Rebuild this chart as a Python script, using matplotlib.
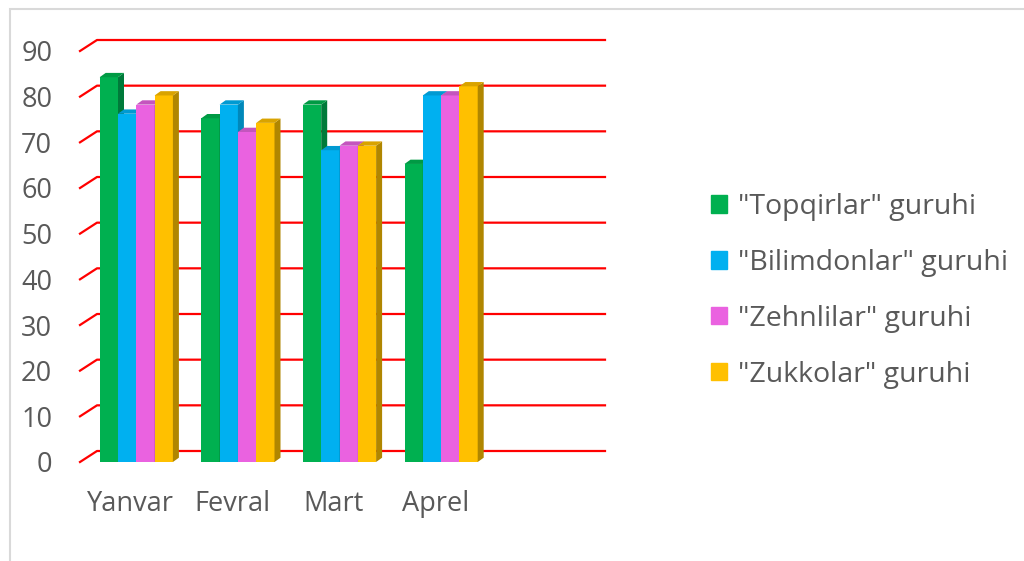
import matplotlib.pyplot as plt
from matplotlib.patches import Polygon, Patch, Rectangle

months = ['Yanvar', 'Fevral', 'Mart', 'Aprel']
groups = ['"Topqirlar" guruhi', '"Bilimdonlar" guruhi',
          '"Zehnlilar" guruhi', '"Zukkolar" guruhi']
topqirlar = [84, 75, 78, 65]
bilimdonlar = [76, 78, 68, 80]
zehnlilar = [78, 72, 69, 80]
zukkolar = [80, 74, 69, 82]
series = [topqirlar, bilimdonlar, zehnlilar, zukkolar]
yticks = list(range(0, 100, 10))

front_c = ['#00B050', '#00B0F0', '#EA62E0', '#FFC000']
side_c = ['#007A3A', '#0088BA', '#B04AA8', '#B08600']
top_c = ['#009A44', '#009AD2', '#C455BE', '#D9A300']
text_c = '#595959'

plt.rcParams['font.family'] = ['Open Sans', 'DejaVu Sans']

fig = plt.figure(figsize=(10.24, 5.61), dpi=100)
# chart area border (only left and top edges are visible)
fig.add_artist(Rectangle((10 / 1024, -0.1), 1.2, (561 - 9) / 561 + 0.1,
                         transform=fig.transFigure, fill=False,
                         ec='#D9D9D9', lw=1.5))

ax = fig.add_axes([80 / 1024, (561 - 462) / 561, 508 / 1024, 411 / 561])
ax.set_xlim(-0.5, 4.5)   # 5 slots, last one empty like the original
ax.set_ylim(0, 90)
for s in ax.spines.values():
    s.set_visible(False)

px_x = 508 / 5      # pixels per category
px_y = 411 / 90     # pixels per unit

# back wall gridlines with the perspective offset
gdx, gdy = 17 / px_x, 11 / px_y
for v in yticks:
    ax.plot([-0.5, -0.5 + gdx, 4.5 + gdx], [v, v + gdy, v + gdy],
            color='#FF0000', lw=1.6, zorder=1, clip_on=False)

# pseudo 3d columns
w = 18.3 / px_x
shift = 5.5 / px_x
base = 1.2 / px_y
dx, dy = 6 / px_x, 4.3 / px_y
z = 2
for i in range(len(months)):
    for j, vals in enumerate(series):
        v = vals[i] + base
        xc = i + (j - 1.5) * w + shift
        xl, xr = xc - w / 2, xc + w / 2
        ax.bar(xc, v, width=w, color=front_c[j], zorder=z, lw=0)
        ax.add_patch(Polygon([(xr, 0), (xr + dx, dy), (xr + dx, v + dy), (xr, v)],
                             closed=True, fc=side_c[j], lw=0, zorder=z, clip_on=False))
        ax.add_patch(Polygon([(xl, v), (xl + dx, v + dy), (xr + dx, v + dy), (xr, v)],
                             closed=True, fc=top_c[j], lw=0, zorder=z, clip_on=False))
        z += 1

ax.set_yticks(yticks)
ax.set_yticklabels([str(t) for t in yticks])
ax.set_xticks(range(len(months)))
ax.set_xticklabels(months)
ax.tick_params(axis='y', length=0, pad=20, labelsize=19.5, labelcolor=text_c)
ax.tick_params(axis='x', length=0, pad=20, labelsize=19.5, labelcolor=text_c)

handles = [Patch(color=c) for c in front_c]
fig.legend(handles, groups, loc='center left',
           bbox_to_anchor=(711 / 1024, 1 - 291 / 561),
           frameon=False, fontsize=20.5, labelcolor=text_c,
           handlelength=0.55, handleheight=0.55, handletextpad=0.4,
           labelspacing=0.98, borderpad=0, borderaxespad=0)

fig.savefig('out.png', dpi=100)
